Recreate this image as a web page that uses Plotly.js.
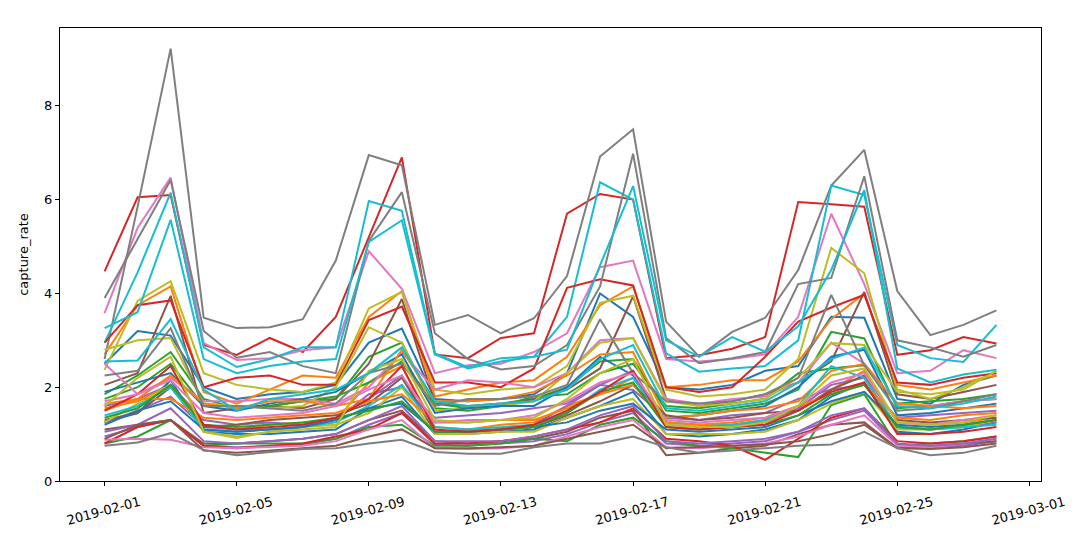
<!DOCTYPE html>
<html><head><meta charset="utf-8">
<script src="https://cdn.plot.ly/plotly-3.0.1.min.js"></script>
<style>body{margin:0;background:#fff}#plot{width:1091px;height:534px}</style>
</head><body><div id="plot"></div>
<script>
const dates = ["2019-02-01","2019-02-02","2019-02-03","2019-02-04","2019-02-05","2019-02-06","2019-02-07",
"2019-02-08","2019-02-09","2019-02-10","2019-02-11","2019-02-12","2019-02-13","2019-02-14",
"2019-02-15","2019-02-16","2019-02-17","2019-02-18","2019-02-19","2019-02-20","2019-02-21",
"2019-02-22","2019-02-23","2019-02-24","2019-02-25","2019-02-26","2019-02-27","2019-02-28"];

const s00 = [2.5,3.2,3.1,2.0,1.75,1.85,1.9,2.05,2.95,3.25,1.75,1.7,1.75,1.85,2.3,4.0,3.5,2.0,1.95,2.05,2.35,2.45,3.5,3.48,1.75,1.65,2.05,2.25];
const s01 = [2.7,3.75,4.15,1.9,1.65,1.95,2.25,2.2,3.5,4.05,1.8,1.95,2.1,2.15,2.65,3.75,4.15,2.0,2.05,2.15,2.15,2.55,3.45,4.0,2.05,1.95,2.1,2.25];
const s02 = [1.85,2.25,2.75,1.75,1.55,1.6,1.7,1.75,2.65,2.95,1.55,1.5,1.6,1.75,2.0,2.55,2.6,1.5,1.45,1.55,1.65,1.95,3.18,3.04,1.55,1.6,1.7,1.75];
const s03 = [4.47,6.05,6.1,2.9,2.69,3.05,2.75,3.5,5.2,6.9,2.7,2.62,3.05,3.15,5.7,6.12,6.0,2.62,2.68,2.82,3.07,5.95,5.9,5.85,2.69,2.79,3.07,2.93];
const s04 = [1.6,1.75,2.05,1.3,1.2,1.25,1.2,1.3,1.85,2.0,1.35,1.4,1.45,1.55,1.65,2.05,1.94,1.35,1.3,1.4,1.45,1.75,1.95,2.05,1.35,1.4,1.45,1.5];
const s05 = [2.05,2.3,3.95,1.45,1.55,1.6,1.55,1.75,2.5,3.88,1.65,1.6,1.65,1.75,1.95,2.4,3.94,1.75,1.6,1.7,1.85,2.1,2.55,4.03,1.85,1.75,1.9,2.05];
const s06 = [3.58,5.4,6.47,2.94,2.58,2.62,2.79,2.85,4.9,4.1,2.3,2.47,2.5,2.75,3.15,4.56,4.7,2.6,2.55,2.6,2.7,3.5,5.7,4.2,2.3,2.35,2.79,2.62];
const s07 = [2.6,5.85,9.22,3.48,3.26,3.28,3.45,4.7,6.95,6.73,3.33,3.54,3.15,3.47,4.37,6.92,7.5,3.4,2.65,3.18,3.48,4.5,6.3,7.06,4.05,3.11,3.33,3.64];
const s08 = [2.37,3.84,4.26,2.3,2.05,1.95,1.9,2.1,3.68,4.03,1.95,1.85,1.95,2.0,2.45,3.8,3.95,1.95,1.8,1.85,1.95,2.6,4.97,4.43,1.95,1.75,2.0,2.35];
const s09 = [2.95,4.45,6.15,2.85,2.43,2.6,2.85,2.85,5.97,5.76,2.72,2.43,2.62,2.65,3.5,6.37,6.0,2.72,2.33,2.4,2.45,3.0,6.3,6.1,2.9,2.62,2.54,3.33];
const s10 = [1.25,1.45,2.15,1.05,1.0,1.0,1.05,1.1,1.55,1.8,1.0,1.0,1.05,1.1,1.35,1.6,1.9,1.0,0.95,1.0,1.1,1.3,1.8,2.1,1.05,1.0,1.1,1.25];
const s11 = [1.55,1.7,2.05,1.2,1.1,1.2,1.25,1.3,2.1,2.45,1.15,1.1,1.2,1.25,1.6,1.85,2.2,1.25,1.2,1.2,1.3,1.5,1.95,2.35,1.25,1.2,1.25,1.35];
const s12 = [1.75,2.0,2.5,1.6,1.6,1.6,1.7,1.8,2.1,2.55,1.65,1.55,1.6,1.8,1.85,2.3,2.5,1.6,1.55,1.65,1.75,2.3,2.4,2.47,1.65,1.7,1.75,1.85];
const s13 = [2.95,3.75,3.85,2.0,2.2,2.25,2.05,2.05,3.43,3.72,2.1,2.1,2.0,2.4,4.12,4.3,4.17,2.0,1.9,2.0,2.65,3.4,3.7,3.97,2.1,2.05,2.2,2.3];
const s14 = [0.95,1.15,1.3,0.75,0.72,0.75,0.78,0.9,1.2,1.45,0.78,0.75,0.8,0.85,1.0,1.25,1.45,0.8,0.75,0.8,0.85,1.05,1.3,1.5,0.78,0.72,0.75,0.85];
const s15 = [1.1,1.2,1.3,0.8,0.8,0.85,0.9,1.0,1.3,1.5,0.85,0.8,0.85,0.9,1.05,1.35,1.5,0.55,0.6,0.7,0.75,1.0,1.2,1.25,0.7,0.75,0.8,0.85];
const s16 = [2.5,1.85,2.2,1.7,1.7,1.75,1.75,1.65,2.0,2.75,1.95,2.15,2.1,2.0,2.3,3.0,3.05,1.75,1.65,1.75,1.8,2.1,2.95,2.5,1.65,1.6,1.7,1.75];
const s17 = [3.9,5.15,6.42,3.2,2.63,2.75,2.45,2.3,5.12,6.16,3.15,2.6,2.38,2.45,2.9,4.15,6.98,3.05,2.51,2.62,2.75,4.2,4.33,6.5,3.0,2.85,2.65,2.9];
const s18 = [2.8,3.0,3.05,1.65,1.6,1.55,1.6,2.0,3.28,2.95,1.5,1.55,1.6,1.7,2.3,2.95,3.05,1.7,1.6,1.65,1.75,2.2,2.94,2.9,1.9,1.85,1.95,2.35];
const s19 = [3.26,3.6,5.57,2.6,2.3,2.45,2.55,2.6,5.1,5.56,2.7,2.4,2.55,2.65,2.8,4.6,6.29,3.0,2.65,3.07,2.76,3.3,4.5,6.2,2.4,2.1,2.27,2.37];
const s20 = [1.9,2.1,2.3,1.6,1.5,1.65,1.75,1.9,2.3,2.7,1.45,1.55,1.6,1.6,2.0,2.65,2.25,1.35,1.4,1.5,1.6,2.0,2.65,2.8,1.4,1.45,1.55,1.65];
const s21 = [1.5,1.75,2.25,1.65,1.55,1.7,1.7,1.6,1.75,2.8,1.7,1.7,1.75,1.9,2.25,2.7,2.75,1.35,1.4,1.5,1.55,1.7,2.35,2.5,1.65,1.6,1.55,1.6];
const s22 = [0.8,0.95,1.3,0.75,0.8,0.8,0.8,0.9,1.15,1.2,0.75,0.75,0.8,0.9,0.85,1.2,1.35,0.85,0.75,0.7,0.6,0.51,1.62,1.85,0.75,0.8,0.85,0.95];
const s23 = [0.8,1.15,1.3,0.75,0.7,0.75,0.8,0.95,1.1,1.45,0.8,0.8,0.85,0.95,1.1,1.25,1.55,0.9,0.85,0.75,0.45,0.9,1.35,1.55,0.85,0.8,0.85,0.95];
const s24 = [1.25,1.5,1.8,1.15,1.1,1.1,1.15,1.35,1.75,2.25,1.05,1.1,1.1,1.2,1.6,2.05,2.35,1.2,1.15,1.2,1.25,1.55,2.05,2.2,1.15,1.1,1.15,1.25];
const s25 = [1.3,1.45,2.0,1.15,1.2,1.3,1.35,1.4,1.65,2.2,1.05,1.05,1.1,1.15,1.4,1.7,2.05,1.4,1.3,1.35,1.45,1.5,1.95,2.25,1.3,1.25,1.3,1.35];
const s26 = [0.88,0.9,0.88,0.72,0.7,0.72,0.75,0.85,1.1,1.3,0.7,0.68,0.7,0.75,0.95,1.15,1.3,0.72,0.7,0.75,0.8,0.95,1.2,1.4,0.75,0.72,0.8,0.9];
const s27 = [2.25,2.35,3.26,1.6,1.6,1.55,1.5,1.65,2.3,2.5,1.6,1.75,1.75,1.8,2.05,3.45,2.3,1.7,1.65,1.7,1.85,2.2,3.97,2.47,1.5,1.55,1.7,1.85];
const s28 = [1.25,1.65,2.05,1.05,0.95,1.05,1.15,1.2,1.45,2.0,1.0,1.0,1.05,1.05,1.35,1.6,1.75,1.0,1.0,1.0,1.05,1.3,1.65,1.9,1.1,1.1,1.15,1.3];
const s29 = [1.4,1.6,2.0,1.1,1.05,1.1,1.15,1.25,1.6,2.05,1.15,1.1,1.15,1.2,1.45,1.95,2.2,1.25,1.2,1.2,1.3,1.6,2.45,2.2,1.15,1.1,1.15,1.2];
const s30 = [1.2,1.5,1.7,1.1,1.05,1.1,1.15,1.3,1.55,1.65,1.05,1.05,1.1,1.15,1.25,1.5,1.65,1.1,1.05,1.1,1.15,1.4,1.7,1.9,1.2,1.15,1.2,1.3];
const s31 = [1.65,1.75,1.75,1.35,1.3,1.35,1.4,1.45,1.7,1.85,1.25,1.25,1.3,1.3,1.55,1.85,2.05,1.25,1.2,1.25,1.35,1.6,1.85,2.05,1.35,1.3,1.4,1.45];
const s32 = [1.35,1.55,2.05,1.2,1.15,1.2,1.25,1.35,1.5,1.7,1.05,1.05,1.1,1.15,1.45,1.9,2.1,1.15,1.1,1.15,1.2,1.4,1.85,2.05,1.15,1.1,1.2,1.3];
const s33 = [1.5,1.85,2.45,1.2,1.1,1.15,1.2,1.35,1.75,2.45,1.1,1.05,1.1,1.2,1.5,1.9,2.35,1.15,1.1,1.15,1.2,1.5,1.9,2.1,1.0,1.0,1.05,1.15];
const s34 = [1.05,1.2,1.55,0.85,0.8,0.85,0.9,1.0,1.3,1.6,0.85,0.85,0.85,0.95,1.1,1.4,1.6,0.85,0.8,0.85,0.9,1.05,1.4,1.55,0.8,0.75,0.8,0.9];
const s35 = [0.9,1.2,1.3,0.65,0.6,0.65,0.7,0.75,0.95,1.1,0.7,0.7,0.72,0.75,0.9,1.05,1.2,0.7,0.72,0.75,0.78,0.85,1.0,1.2,0.7,0.68,0.72,0.8];
const s36 = [1.7,1.85,2.15,1.45,1.35,1.4,1.45,1.6,1.95,2.25,1.25,1.3,1.3,1.4,1.7,2.1,2.3,1.3,1.25,1.3,1.35,1.6,2.1,2.3,1.25,1.2,1.3,1.4];
const s37 = [0.75,0.82,1.02,0.66,0.55,0.62,0.68,0.7,0.8,0.88,0.62,0.58,0.58,0.72,0.8,0.8,0.95,0.72,0.6,0.65,0.7,0.75,0.78,1.05,0.7,0.55,0.6,0.75];
const s38 = [1.6,2.2,2.65,1.05,0.92,1.05,1.1,1.15,2.35,2.6,1.3,1.25,1.3,1.35,1.75,2.3,2.6,1.2,1.15,1.15,1.25,1.6,2.25,2.4,1.25,1.2,1.25,1.4];
const s39 = [2.55,2.57,3.45,1.95,1.5,1.75,1.85,1.95,2.3,2.85,1.7,1.6,1.65,1.7,1.95,2.6,2.9,1.55,1.5,1.6,1.7,2.1,2.6,2.85,1.6,1.55,1.65,1.8];

const seriesList = [s00,s01,s02,s03,s04,s05,s06,s07,s08,s09,s10,s11,s12,s13,s14,s15,s16,s17,s18,s19,
  s20,s21,s22,s23,s24,s25,s26,s27,s28,s29,s30,s31,s32,s33,s34,s35,s36,s37,s38,s39];
const palette = ["#1f77b4","#ff7f0e","#2ca02c","#d62728","#9467bd","#8c564b","#e377c2","#7f7f7f","#bcbd22","#17becf"];

const traces = seriesList.map((ys, i) => ({
  x: dates, y: ys, type: "scatter", mode: "lines",
  line: {color: palette[i % 10], width: 2}, showlegend: false, hoverinfo: "skip"
}));

const layout = {
  width: 1091, height: 534,
  margin: {l: 60, r: 50, t: 28, b: 53},
  paper_bgcolor: "#fff", plot_bgcolor: "#fff",
  font: {family: "DejaVu Sans, sans-serif", size: 13, color: "#000"},
  xaxis: {
    type: "date", range: ["2019-01-30 15:36", "2019-03-01 08:24"],
    tick0: "2019-02-01", dtick: 4 * 86400000, tickformat: "%Y-%m-%d",
    tickangle: -15, ticklabelshift: 35, ticklabelstandoff: 4,
    ticks: "outside", ticklen: 4, tickcolor: "#000",
    showgrid: false, zeroline: false, showline: true, linecolor: "#000", linewidth: 1, mirror: true
  },
  yaxis: {
    range: [0, 9.66], tickvals: [0, 2, 4, 6, 8], ticks: "outside", ticklen: 4, tickcolor: "#000",
    showgrid: false, zeroline: false, showline: true, linecolor: "#000", linewidth: 1, mirror: true,
    title: {text: "capture_rate", standoff: 12, font: {size: 13}}
  }
};
Plotly.newPlot("plot", traces, layout, {staticPlot: true});
</script></body></html>
